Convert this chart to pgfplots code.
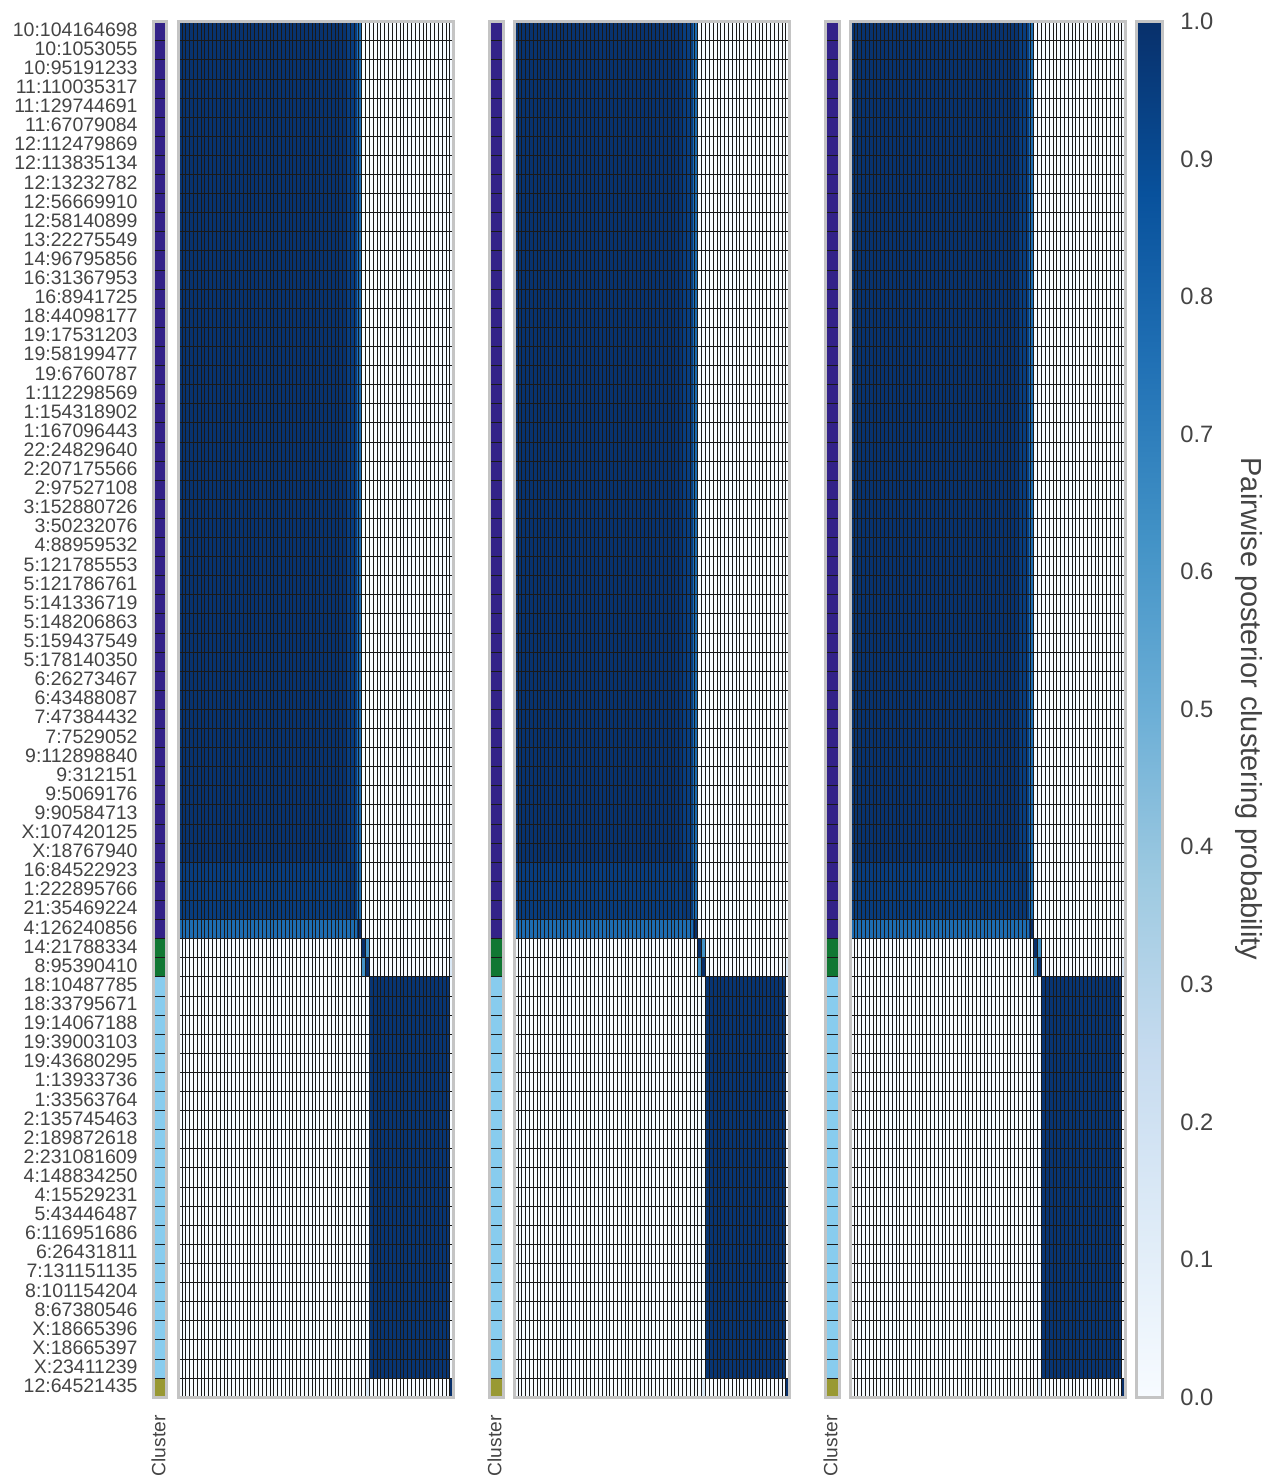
\documentclass[border=0pt]{standalone}
\usepackage{pgfplots}
\pgfplotsset{compat=1.18}
\usepackage{pgfplotstable}
\usepackage{fontspec}
\setmainfont{Liberation Sans}

\definecolor{clustA}{HTML}{332288}
\definecolor{clustB}{HTML}{117733}
\definecolor{clustC}{HTML}{88CCEE}
\definecolor{clustD}{HTML}{999933}
\definecolor{labelgray}{HTML}{444444}
\definecolor{framegray}{HTML}{C4C4C4}

\pgfplotsset{
  colormap={blues}{rgb255=(247,251,255) rgb255=(222,235,247) rgb255=(198,219,239)
    rgb255=(158,202,225) rgb255=(107,174,214) rgb255=(66,146,198)
    rgb255=(33,113,181) rgb255=(8,81,156) rgb255=(8,48,107)},
  cellgrid/.style={
    scale only axis, anchor=north west,
    height=687.75bp,
    ymin=0, ymax=72, y dir=reverse,
    axis on top,
    major tick length=0pt, minor tick length=0pt,
    axis line style={framegray, line width=1.5bp},
    grid style={black!90, line width=0.3bp},
    minor grid style={black!90, line width=0.3bp},
  },
  ppm/.style={cellgrid, width=137.75bp, xmin=0, xmax=72,
    xtick={0,...,72}, ytick={0,...,72}, xticklabels={}, yticklabels={},
    grid=major,
    colormap name=blues, point meta min=0, point meta max=1},
  clusterbar/.style={cellgrid, width=6.75bp, xmin=0, xmax=1, xtick=\empty,
    ytick={0.5,1.5,...,71.5}, yticklabels={},
    minor ytick={0,...,72}, yminorgrids=true},
}

% Posterior co-clustering matrix as constant blocks.
% Every four lines are the corners (column, row) of one block, with its probability.
\pgfplotstableread{
x  y  c
0  0  0.00
72 0  0.00
72 72 0.00
0  72 0.00
0  0  0.99
44 0  0.99
44 44 0.99
0  44 0.99
44 0  0.95
47 0  0.95
47 44 0.95
44 44 0.95
0  44 0.95
44 44 0.95
44 47 0.95
0  47 0.95
44 44 0.97
47 44 0.97
47 47 0.97
44 47 0.97
47 0  0.77
48 0  0.77
48 47 0.77
47 47 0.77
0  47 0.77
47 47 0.77
47 48 0.77
0  48 0.77
47 47 1.00
48 47 1.00
48 48 1.00
47 48 1.00
48 48 1.00
49 48 1.00
49 49 1.00
48 49 1.00
49 48 0.62
50 48 0.62
50 49 0.62
49 49 0.62
48 49 0.62
49 49 0.62
49 50 0.62
48 50 0.62
49 49 1.00
50 49 1.00
50 50 1.00
49 50 1.00
71 49 0.14
72 49 0.14
72 50 0.14
71 50 0.14
49 71 0.14
50 71 0.14
50 72 0.14
49 72 0.14
50 50 0.98
71 50 0.98
71 71 0.98
50 71 0.98
71 71 1.00
72 71 1.00
72 72 1.00
71 72 1.00
}\ppmblocks

\newcommand{\clusterfills}{%
  \addplot[fill=clustA, draw=none] coordinates {(0,0) (1,0) (1,48) (0,48)};
  \addplot[fill=clustB, draw=none] coordinates {(0,48) (1,48) (1,50) (0,50)};
  \addplot[fill=clustC, draw=none] coordinates {(0,50) (1,50) (1,71) (0,71)};
  \addplot[fill=clustD, draw=none] coordinates {(0,71) (1,71) (1,72) (0,72)};
}
\newcommand{\ppmplot}{%
  \addplot[patch, patch type=rectangle, shader=flat corner, point meta=\thisrow{c}]
    table[x=x, y=y] {\ppmblocks};
}

\begin{document}
\begin{tikzpicture}
\useasboundingbox (0,0) rectangle (638bp,-739.5bp);

% ---- panel 1 ----
\begin{axis}[clusterbar, at={(76.75bp,-10.75bp)},
  yticklabels={10:104164698,10:1053055,10:95191233,11:110035317,11:129744691,11:67079084,12:112479869,12:113835134,12:13232782,12:56669910,12:58140899,13:22275549,14:96795856,16:31367953,16:8941725,18:44098177,19:17531203,19:58199477,19:6760787,1:112298569,1:154318902,1:167096443,22:24829640,2:207175566,2:97527108,3:152880726,3:50232076,4:88959532,5:121785553,5:121786761,5:141336719,5:148206863,5:159437549,5:178140350,6:26273467,6:43488087,7:47384432,7:7529052,9:112898840,9:312151,9:5069176,9:90584713,X:107420125,X:18767940,16:84522923,1:222895766,21:35469224,4:126240856,14:21788334,8:95390410,18:10487785,18:33795671,19:14067188,19:39003103,19:43680295,1:13933736,1:33563764,2:135745463,2:189872618,2:231081609,4:148834250,4:15529231,5:43446487,6:116951686,6:26431811,7:131151135,8:101154204,8:67380546,X:18665396,X:18665397,X:23411239,12:64521435},
  yticklabel style={font=\fontsize{9.75bp}{11bp}\selectfont, text=labelgray,
    anchor=east, inner sep=0pt, xshift=-7.75bp, yshift=0.8bp},
]
\clusterfills
\end{axis}
\begin{axis}[ppm, at={(89bp,-10.75bp)}]
\ppmplot
\end{axis}

% ---- panel 2 ----
\begin{axis}[clusterbar, at={(244.75bp,-10.75bp)}]
\clusterfills
\end{axis}
\begin{axis}[ppm, at={(257bp,-10.75bp)}]
\ppmplot
\end{axis}

% ---- panel 3 with colour bar ----
\begin{axis}[clusterbar, at={(412.75bp,-10.75bp)}]
\clusterfills
\end{axis}
\begin{axis}[ppm, at={(425bp,-10.75bp)},
  colorbar,
  colorbar style={
    at={(parent axis.north east)}, anchor=north west, xshift=-3bp,
    width=13bp,
    ytick={0,0.1,0.2,0.3,0.4,0.5,0.6,0.7,0.8,0.9,1},
    yticklabels={0.0,0.1,0.2,0.3,0.4,0.5,0.6,0.7,0.8,0.9,1.0},
    yticklabel style={font=\fontsize{11.85bp}{13bp}\selectfont, text=labelgray,
      anchor=west, inner sep=0pt, xshift=8.75bp},
    major tick length=0pt,
    axis line style={framegray, line width=1.5bp},
  },
]
\ppmplot
\end{axis}

% annotation labels
\foreach \cx in {79.25, 247.25, 415.25} {
  \node[rotate=90, anchor=east, inner sep=0pt, text=labelgray,
    font=\fontsize{9.6bp}{11bp}\selectfont] at (\cx bp,-707.5bp) {Cluster};
}
\node[rotate=-90, inner sep=0pt, text=labelgray,
  font=\fontsize{14.5bp}{16bp}\selectfont] at (624.5bp,-354.5bp)
  {Pairwise posterior clustering probability};
\end{tikzpicture}
\end{document}
